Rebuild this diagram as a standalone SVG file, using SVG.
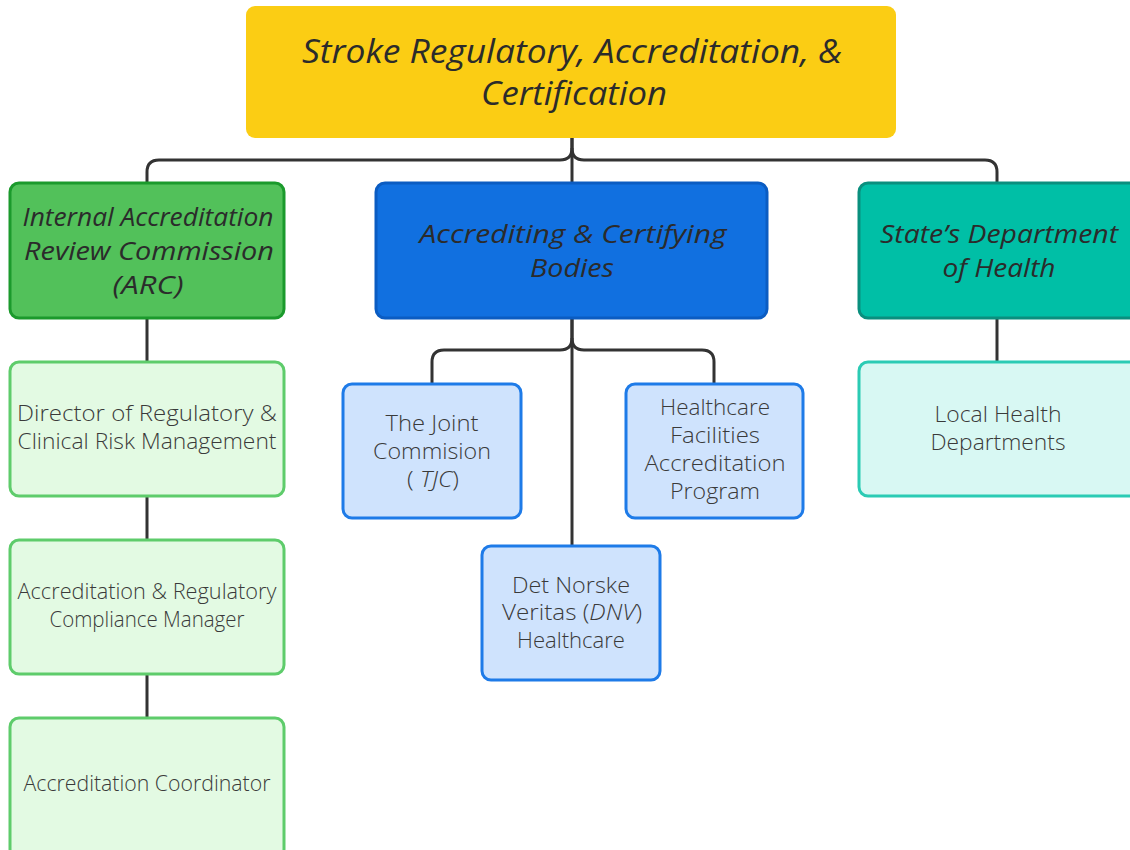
<svg xmlns="http://www.w3.org/2000/svg" width="1130" height="850" viewBox="0 0 1130 850">
<style>
.conn{fill:none;stroke:#333;stroke-width:3;stroke-linejoin:round}
.head{font-family:"Open Sans","Liberation Sans",sans-serif;font-style:italic;text-anchor:middle;fill:#2b2b2b}
.sub{font-family:"Open Sans","Liberation Sans",sans-serif;font-weight:300;font-size:22px;text-anchor:middle;fill:#3a3a3a}
.g1{fill:#52C15A;stroke:#1B9A2C;stroke-width:3}
.b1{fill:#1170E0;stroke:#0B5CC2;stroke-width:3}
.t1{fill:#00BFA6;stroke:#0A8F7E;stroke-width:3}
.g2{fill:#E3FAE3;stroke:#5ECC6B;stroke-width:3}
.b2{fill:#CFE3FD;stroke:#1E7BE8;stroke-width:3}
.t2{fill:#D8F8F3;stroke:#2BCBB4;stroke-width:3}
</style>
<rect width="1130" height="850" fill="#fff"/>
<g id="connectors">
<path class="conn" d="M572,138 V148 Q572,160 560,160 H159 Q147,160 147,172 V183"/>
<path class="conn" d="M572,138 V148 Q572,160 584,160 H985 Q997,160 997,172 V183"/>
<path class="conn" d="M572,148 V183"/>
<path class="conn" d="M147,318 V362 M147,496 V540 M147,674 V718"/>
<path class="conn" d="M572,318 V338 Q572,350 560,350 H444 Q432,350 432,362 V384"/>
<path class="conn" d="M572,318 V338 Q572,350 584,350 H702 Q714,350 714,362 V384"/>
<path class="conn" d="M572,338 V546"/>
<path class="conn" d="M997,318 V362"/>
</g>
<g id="root">
<rect x="246" y="6" width="650" height="132" rx="9" fill="#FBCD14"/>
<text class="head" font-size="32" x="572" y="63" textLength="540" lengthAdjust="spacingAndGlyphs" fill="#111">Stroke Regulatory, Accreditation, &amp;</text>
<text class="head" font-size="32" x="574" y="105" textLength="186" lengthAdjust="spacingAndGlyphs" fill="#111">Certification</text>
</g>
<g id="arc">
<rect class="g1" x="10" y="183" width="274" height="135" rx="9"/>
<text class="head" font-size="26" x="148" y="226" textLength="251" lengthAdjust="spacingAndGlyphs">Internal Accreditation</text>
<text class="head" font-size="26" x="149" y="260" textLength="250" lengthAdjust="spacingAndGlyphs">Review Commission</text>
<text class="head" font-size="26" x="148" y="294" textLength="71" lengthAdjust="spacingAndGlyphs">(ARC)</text>
</g>
<g id="acb">
<rect class="b1" x="376" y="183" width="391" height="135" rx="9"/>
<text class="head" font-size="26" x="573" y="243" textLength="307" lengthAdjust="spacingAndGlyphs">Accrediting &amp; Certifying</text>
<text class="head" font-size="26" x="572" y="277" textLength="84" lengthAdjust="spacingAndGlyphs">Bodies</text>
</g>
<g id="sdh">
<rect class="t1" x="859" y="183" width="280" height="135" rx="9"/>
<text class="head" font-size="26" x="999" y="243" textLength="238" lengthAdjust="spacingAndGlyphs">State’s Department</text>
<text class="head" font-size="26" x="999" y="277" textLength="113" lengthAdjust="spacingAndGlyphs">of Health</text>
</g>
<g id="director">
<rect class="g2" x="10" y="362" width="274" height="134" rx="9"/>
<text class="sub" x="147" y="421" textLength="260" lengthAdjust="spacingAndGlyphs">Director of Regulatory &amp;</text>
<text class="sub" x="147" y="449" textLength="259" lengthAdjust="spacingAndGlyphs">Clinical Risk Management</text>
</g>
<g id="manager">
<rect class="g2" x="10" y="540" width="274" height="134" rx="9"/>
<text class="sub" x="147" y="599" textLength="259" lengthAdjust="spacingAndGlyphs">Accreditation &amp; Regulatory</text>
<text class="sub" x="147" y="627" textLength="195" lengthAdjust="spacingAndGlyphs">Compliance Manager</text>
</g>
<g id="coordinator">
<rect class="g2" x="10" y="718" width="274" height="140" rx="9"/>
<text class="sub" x="147" y="791" textLength="247" lengthAdjust="spacingAndGlyphs">Accreditation Coordinator</text>
</g>
<g id="tjc">
<rect class="b2" x="343" y="384" width="178" height="134" rx="9"/>
<text class="sub" x="432" y="431" textLength="93" lengthAdjust="spacingAndGlyphs">The Joint</text>
<text class="sub" x="432" y="459" textLength="118" lengthAdjust="spacingAndGlyphs">Commision</text>
<text class="sub" x="433" y="487" textLength="52" lengthAdjust="spacingAndGlyphs">( <tspan font-style="italic">TJC</tspan>)</text>
</g>
<g id="hfap">
<rect class="b2" x="626" y="384" width="177" height="134" rx="9"/>
<text class="sub" x="715" y="415" textLength="110" lengthAdjust="spacingAndGlyphs">Healthcare</text>
<text class="sub" x="715" y="443" textLength="90" lengthAdjust="spacingAndGlyphs">Facilities</text>
<text class="sub" x="715" y="471" textLength="141" lengthAdjust="spacingAndGlyphs">Accreditation</text>
<text class="sub" x="715" y="499" textLength="90" lengthAdjust="spacingAndGlyphs">Program</text>
</g>
<g id="dnv">
<rect class="b2" x="482" y="546" width="178" height="134" rx="9"/>
<text class="sub" x="571" y="593" textLength="118" lengthAdjust="spacingAndGlyphs">Det Norske</text>
<text class="sub" x="572" y="620" textLength="140" lengthAdjust="spacingAndGlyphs">Veritas (<tspan font-style="italic">DNV</tspan>)</text>
<text class="sub" x="571" y="648" textLength="108" lengthAdjust="spacingAndGlyphs">Healthcare</text>
</g>
<g id="local">
<rect class="t2" x="859" y="362" width="280" height="134" rx="9"/>
<text class="sub" x="998" y="422" textLength="127" lengthAdjust="spacingAndGlyphs">Local Health</text>
<text class="sub" x="998" y="450" textLength="135" lengthAdjust="spacingAndGlyphs">Departments</text>
</g>
</svg>
